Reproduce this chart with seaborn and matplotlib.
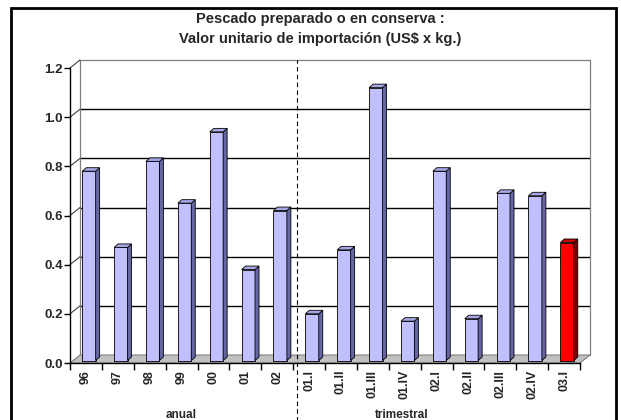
import matplotlib
matplotlib.use("Agg")
import matplotlib.pyplot as plt
import seaborn as sns
from matplotlib.patches import Polygon, Rectangle

# Data
periodos = ["96", "97", "98", "99", "00", "01", "02",
            "01.I", "01.II", "01.III", "01.IV", "02.I", "02.II", "02.III", "02.IV", "03.I"]
valores = [0.77, 0.46, 0.81, 0.64, 0.93, 0.37, 0.61,
           0.19, 0.45, 1.11, 0.16, 0.77, 0.17, 0.68, 0.67, 0.48]
n_anual = 7

# colours: last quarter highlighted in red
frente = ["#C0C0FF"] * (len(periodos) - 1) + ["#FF0000"]
lado = ["#6666A0"] * (len(periodos) - 1) + ["#800000"]
techo = ["#A6A6E6"] * (len(periodos) - 1) + ["#CC0000"]

sns.set_style("white")
plt.rcParams["font.family"] = ["Liberation Sans", "DejaVu Sans"]

W, H = 621, 420
fig = plt.figure(figsize=(W / 100, H / 100), dpi=100)
ax_w, ax_h = 510, 295
ax = fig.add_axes([70 / W, 57 / H, ax_w / W, ax_h / H])

sns.barplot(x=periodos, y=valores, hue=periodos, palette=frente, legend=False,
            saturation=1, width=0.42, edgecolor="black", linewidth=0.6, ax=ax, zorder=3)
bars = [p for p in ax.patches if isinstance(p, Rectangle)]
bars = sorted(bars, key=lambda p: p.get_x())

n = len(periodos)
ax.set_xlim(-0.5, n - 0.5)
ax.set_ylim(0, 1.2)

# pixel -> data conversion for the fake 3D depth
px = n / ax_w
py = 1.2 / ax_h
DX, DY = 10 * px, 8 * py      # wall depth
BX, BY = 3 * px, 2.5 * py     # bar placed mid depth
bdx, bdy = 4 * px, 3.5 * py   # bar thickness

# floor
ax.add_patch(Polygon([(-0.5, 0), (n - 0.5, 0), (n - 0.5 + DX, DY), (-0.5 + DX, DY)],
                     closed=True, facecolor="#C0C0C0", edgecolor="#808080",
                     lw=0.8, zorder=1, clip_on=False))

# back wall and left wall lines
for y in [0.2, 0.4, 0.6, 0.8, 1.0]:
    ax.plot([-0.5 + DX, n - 0.5 + DX], [y + DY, y + DY], color="black", lw=1,
            zorder=0.8, clip_on=False)
ax.plot([-0.5 + DX, n - 0.5 + DX], [1.2 + DY, 1.2 + DY], color="#808080", lw=0.9,
        zorder=0.8, clip_on=False)
ax.plot([-0.5 + DX, -0.5 + DX], [DY, 1.2 + DY], color="#808080", lw=0.9,
        zorder=0.8, clip_on=False)
ax.plot([n - 0.5 + DX, n - 0.5 + DX], [DY, 1.2 + DY], color="#808080", lw=0.9,
        zorder=0.8, clip_on=False)
for y in [0.2, 0.4, 0.6, 0.8, 1.0, 1.2]:
    ax.plot([-0.5, -0.5 + DX], [y, y + DY], color="#404040", lw=0.8,
            zorder=0.8, clip_on=False)

# bars: shift front faces and add side/top faces
for i, b in enumerate(bars):
    b.set_x(b.get_x() + BX)
    b.set_y(BY)
    x0 = b.get_x()
    x1 = x0 + b.get_width()
    y0 = BY
    y1 = BY + b.get_height()
    ax.add_patch(Polygon([(x1, y0), (x1 + bdx, y0 + bdy), (x1 + bdx, y1 + bdy), (x1, y1)],
                         closed=True, facecolor=lado[i], edgecolor="black",
                         lw=0.6, zorder=3, clip_on=False))
    ax.add_patch(Polygon([(x0, y1), (x0 + bdx, y1 + bdy), (x1 + bdx, y1 + bdy), (x1, y1)],
                         closed=True, facecolor=techo[i], edgecolor="black",
                         lw=0.6, zorder=3, clip_on=False))

# axes styling
for s in ["top", "right"]:
    ax.spines[s].set_visible(False)
ax.spines["left"].set_color("black")
ax.spines["bottom"].set_color("black")
ax.spines["left"].set_linewidth(1)
ax.spines["bottom"].set_linewidth(1)
ax.set_facecolor("none")

ax.set_yticks([0, 0.2, 0.4, 0.6, 0.8, 1.0, 1.2])
ax.set_yticklabels(["0.0", "0.2", "0.4", "0.6", "0.8", "1.0", "1.2"],
                   fontsize=9.5, fontweight="bold")
ax.tick_params(axis="y", direction="out", length=4, width=1, color="black", left=True, pad=1)

ax.set_xticks(range(n))
ax.set_xticklabels(periodos, rotation=90, fontsize=9, fontweight="bold")
ax.set_xticks([i - 0.5 for i in range(n + 1)], minor=True)
ax.tick_params(axis="x", which="major", length=0, pad=5)
ax.tick_params(axis="x", which="minor", direction="out", length=5, width=1,
               color="black", bottom=True)
ax.set_xlabel("")
ax.set_ylabel("")

# separator between annual and quarterly data
ax.plot([n_anual - 0.5 + 0.4 * DX] * 2, [-0.25, 1.2 + DY], color="black", lw=0.8,
        linestyle=(0, (4, 3)), zorder=4, clip_on=False)

ax.text((n_anual - 1) / 2, -0.213, "anual", ha="center", va="center",
        fontsize=8.5, fontweight="bold")
ax.text(9.9, -0.213, "trimestral", ha="center", va="center",
        fontsize=8.5, fontweight="bold")

fig.text(0.515, 1 - 19 / H, "Pescado preparado o en conserva :", ha="center",
         va="center", fontsize=10.5, fontweight="bold")
fig.text(0.515, 1 - 39 / H, "Valor unitario de importación (US$ x kg.)", ha="center",
         va="center", fontsize=10.5, fontweight="bold")

# chart border
fig.add_artist(Rectangle((11 / W, -0.05), 605 / W, 1.05 - 8 / H, transform=fig.transFigure,
                         fill=False, edgecolor="black", lw=2))

fig.savefig("out.png", dpi=100)
